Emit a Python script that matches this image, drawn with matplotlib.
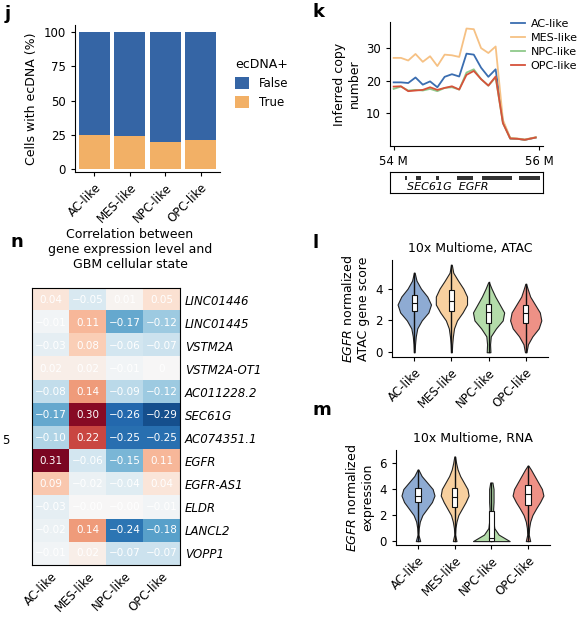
import numpy as np
import matplotlib
matplotlib.use("Agg")
import matplotlib.pyplot as plt
from matplotlib.patches import Rectangle

plt.rcParams['font.family'] = ['DejaVu Sans']
states = ['AC-like', 'MES-like', 'NPC-like', 'OPC-like']

# panel j
true_pct = [25, 24.5, 20, 21]
false_pct = [75, 75.5, 80, 79]

# panel k
pos_m = [54.0, 54.1, 54.2, 54.3, 54.4, 54.5, 54.6, 54.7, 54.8, 54.9, 55.0, 55.1, 55.2, 55.3,
         55.4, 55.5, 55.6, 55.7, 55.8, 55.95]
cn_ac = [19.5, 19.5, 19.3, 21, 18.8, 19.8, 18, 21.2, 22, 21.3, 28.3, 28, 24, 21.2, 23.5, 7.5, 2.3, 2.2, 1.9, 2.6]
cn_mes = [27, 27, 26.2, 28.2, 25.8, 27.5, 24.5, 28, 27.8, 27.3, 36, 35.8, 30, 28.5, 30.5, 8, 2.5, 2.3, 2.0, 2.7]
cn_npc = [17.5, 18.2, 17, 17.2, 17, 17.5, 16.8, 17.8, 18, 17.3, 22.5, 23.5, 20.5, 18.5, 21, 7, 2.3, 2.2, 1.9, 2.6]
cn_opc = [18.2, 18.3, 16.8, 17, 17.2, 18, 17.2, 17.8, 18.3, 17.3, 21.8, 23, 20.5, 18.5, 21.3, 7, 2.3, 2.2, 1.9, 2.6]

# panel n
genes = ['LINC01446', 'LINC01445', 'VSTM2A', 'VSTM2A-OT1', 'AC011228.2', 'SEC61G',
         'AC074351.1', 'EGFR', 'EGFR-AS1', 'ELDR', 'LANCL2', 'VOPP1']
corr = [[0.04, -0.05, 0.01, 0.05],
        [-0.01, 0.11, -0.17, -0.12],
        [-0.03, 0.08, -0.06, -0.07],
        [0.02, 0.02, -0.01, 0.0],
        [-0.08, 0.14, -0.09, -0.12],
        [-0.17, 0.30, -0.26, -0.29],
        [-0.10, 0.22, -0.25, -0.25],
        [0.31, -0.06, -0.15, 0.11],
        [0.09, -0.02, -0.04, 0.04],
        [-0.03, -0.00, -0.00, -0.01],
        [-0.02, 0.14, -0.24, -0.18],
        [-0.01, 0.02, -0.07, -0.07]]
corr_txt = [['0.04', '-0.05', '0.01', '0.05'], ['-0.01', '0.11', '-0.17', '-0.12'],
            ['-0.03', '0.08', '-0.06', '-0.07'], ['0.02', '0.02', '-0.01', '0'],
            ['-0.08', '0.14', '-0.09', '-0.12'], ['-0.17', '0.30', '-0.26', '-0.29'],
            ['-0.10', '0.22', '-0.25', '-0.25'], ['0.31', '-0.06', '-0.15', '0.11'],
            ['0.09', '-0.02', '-0.04', '0.04'], ['-0.03', '-0.00', '-0.00', '-0.01'],
            ['-0.02', '0.14', '-0.24', '-0.18'], ['-0.01', '0.02', '-0.07', '-0.07']]

# panel l violins (levels, half widths), box (q1, med, q3)
atac_levels = [[0, .5, 1, 1.5, 2, 2.5, 3, 3.5, 4, 4.5, 5],
               [0, .5, 1, 1.5, 2, 2.5, 3, 3.5, 4, 4.5, 5, 5.5],
               [0, .5, 1, 1.5, 2, 2.5, 3, 3.5, 4, 4.4],
               [0, .5, 1, 1.5, 2, 2.5, 3, 3.5, 4, 4.3]]
atac_width = [[.01, .02, .04, .08, .2, .38, .45, .35, .18, .06, .01],
              [.01, .02, .04, .07, .15, .3, .42, .42, .32, .18, .05, .01],
              [.05, .04, .06, .2, .38, .42, .3, .18, .08, .01],
              [.02, .06, .18, .35, .42, .38, .25, .12, .05, .01]]
atac_box = [(2.6, 3.1, 3.6), (2.6, 3.25, 3.9), (1.85, 2.5, 3.05), (1.85, 2.45, 3.0)]
# panel m
rna_levels = [[0, .5, 1, 1.5, 2, 2.5, 3, 3.5, 4, 4.5, 5, 5.5],
              [0, .5, 1, 1.5, 2, 2.5, 3, 3.5, 4, 4.5, 5, 5.5, 6, 6.5],
              [0, .5, 1, 1.5, 2, 2.5, 3, 3.5, 4, 4.5],
              [0, .5, 1, 1.5, 2, 2.5, 3, 3.5, 4, 4.5, 5, 5.5, 5.8]]
rna_width = [[.06, .01, .02, .05, .12, .25, .38, .45, .4, .25, .1, .01],
             [.05, .01, .02, .05, .1, .2, .3, .38, .35, .25, .15, .08, .04, .01],
             [.5, .2, .08, .06, .05, .05, .06, .06, .06, .03],
             [.06, .02, .03, .06, .12, .22, .33, .42, .38, .28, .18, .08, .01]]
rna_box = [(3.0, 3.5, 4.1), (2.6, 3.4, 4.1), (0.0, 0.2, 2.3), (2.8, 3.6, 4.3)]

vcol = ['#8eabd3', '#f8d09f', '#b4dcaa', '#ee9186']
W, H = 587, 628
fig = plt.figure(figsize=(W / 100, H / 100), dpi=100)

def ax_px(x0, y0, x1, y1):
    return fig.add_axes([x0 / W, 1 - y1 / H, (x1 - x0) / W, (y1 - y0) / H])

def style(ax):
    for s in ['top', 'right']:
        ax.spines[s].set_visible(False)
    ax.tick_params(labelsize=8.5, length=3)

# j
ax = ax_px(75, 25, 220, 172)
xi = np.arange(4)
ax.bar(xi, true_pct, width=0.88, color='#f2b066', label='True')
ax.bar(xi, false_pct, bottom=true_pct, width=0.88, color='#3565a5', label='False')
ax.set_ylim(-2, 105)
ax.set_xlim(-0.55, 3.55)
ax.set_yticks([0, 25, 50, 75, 100])
ax.set_xticks(xi)
ax.set_xticklabels(states, rotation=45, ha='right', rotation_mode='anchor')
ax.set_ylabel('Cells with ecDNA (%)', fontsize=9)
style(ax)
h, l = ax.get_legend_handles_labels()
ax.legend(h[::-1], l[::-1], title='ecDNA+', frameon=False, fontsize=8.5, title_fontsize=9,
          loc='center left', bbox_to_anchor=(1.03, 0.6), handlelength=1.2, handleheight=1.2)
fig.text(5 / W, 1 - 14 / H, 'j', fontsize=13, fontweight='bold', va='center')

# k
ax = ax_px(390, 22, 543, 146)
for vals, c, n in [(cn_ac, '#3a6db0', 'AC-like'), (cn_mes, '#f6c184', 'MES-like'),
                   (cn_npc, '#8fc98a', 'NPC-like'), (cn_opc, '#d6523a', 'OPC-like')]:
    ax.plot(pos_m, vals, color=c, lw=1.3, label=n)
ax.set_xlim(53.95, 56.05)
ax.set_ylim(0, 38)
ax.set_yticks([10, 20, 30])
ax.set_xticks([54, 56])
ax.set_xticklabels(['54 M', '56 M'])
ax.set_ylabel('Inferred copy\nnumber', fontsize=9)
style(ax)
ax.legend(frameon=False, fontsize=8, loc='upper left', bbox_to_anchor=(0.76, 1.06),
          handlelength=1.3, labelspacing=0.35, handletextpad=0.5, borderaxespad=0)
fig.text(313 / W, 1 - 12 / H, 'k', fontsize=13, fontweight='bold', va='center')
gx = ax_px(390, 172, 543, 193)
gx.set_xlim(0, 1)
gx.set_ylim(0, 1)
gx.set_xticks([])
gx.set_yticks([])
for x0, w in [(0.1, 0.01), (0.17, 0.03), (0.3, 0.02), (0.44, 0.1), (0.6, 0.2), (0.84, 0.14)]:
    gx.add_patch(Rectangle((x0, 0.62), w, 0.2, color='#333333', lw=0))
gx.text(0.38, 0.3, 'SEC61G  EGFR', style='italic', fontsize=8, ha='center', va='center')

# n
ax = ax_px(32, 288, 180, 565)
ax.imshow(np.array(corr), cmap='RdBu_r', vmin=-0.33, vmax=0.33, aspect='auto')
for i in range(len(genes)):
    for j in range(4):
        ax.text(j, i, corr_txt[i][j].replace('-', '\u2212'), ha='center', va='center',
                color='white', fontsize=7.5)
ax.set_xticks(range(4))
ax.set_xticklabels(states, rotation=45, ha='right', rotation_mode='anchor', fontsize=8.5)
ax.yaxis.tick_right()
ax.set_yticks(range(len(genes)))
ax.set_yticklabels(genes, style='italic', fontsize=8.5)
ax.tick_params(length=0)
fig.text(130 / W, 1 - 250 / H, 'Correlation between\ngene expression level and\nGBM cellular state',
         ha='center', va='center', fontsize=9)
fig.text(10 / W, 1 - 242 / H, 'n', fontsize=13, fontweight='bold', va='center')
fig.text(2 / W, 1 - 440 / H, '5', fontsize=8.5, va='center')

def violins(ax, levels, widths, boxes):
    for k in range(4):
        y = np.array(levels[k])
        w = np.array(widths[k])
        ax.fill_betweenx(y, k - w, k + w, color=vcol[k], ec='#222222', lw=0.8)
        ax.plot([k, k], [y[0], y[-1]], color='#111111', lw=1.0)
        q1, md, q3 = boxes[k]
        ax.add_patch(Rectangle((k - 0.07, q1), 0.14, q3 - q1, fc='white', ec='#111111', lw=0.8, zorder=3))
        ax.plot([k - 0.07, k + 0.07], [md, md], color='#111111', lw=0.8, zorder=4)
    ax.set_xlim(-0.6, 3.6)
    ax.set_xticks(range(4))
    ax.set_xticklabels(states, rotation=45, ha='right', rotation_mode='anchor')
    style(ax)

ax = ax_px(392, 260, 548, 357)
violins(ax, atac_levels, atac_width, atac_box)
ax.set_ylim(-0.3, 5.8)
ax.set_yticks([0, 2, 4])
ax.set_ylabel('$\\it{EGFR}$ normalized\nATAC gene score', fontsize=9)
ax.set_title('10x Multiome, ATAC', fontsize=9)
fig.text(313 / W, 1 - 243 / H, 'l', fontsize=13, fontweight='bold', va='center')

ax = ax_px(396, 450, 550, 545)
violins(ax, rna_levels, rna_width, rna_box)
ax.set_ylim(-0.3, 7)
ax.set_yticks([0, 2, 4, 6])
ax.set_ylabel('$\\it{EGFR}$ normalized\nexpression', fontsize=9)
ax.set_title('10x Multiome, RNA', fontsize=9)
fig.text(313 / W, 1 - 410 / H, 'm', fontsize=13, fontweight='bold', va='center')

fig.savefig('out.png', dpi=100)
